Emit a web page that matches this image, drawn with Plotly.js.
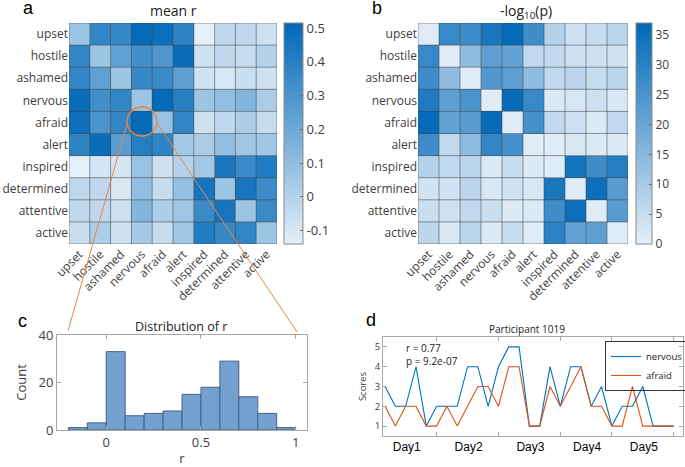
<!DOCTYPE html>
<html>
<head>
<meta charset="utf-8">
<script src="https://cdn.plot.ly/plotly-3.0.1.min.js"></script>
<style>html,body{margin:0;padding:0;background:#fff;}#chart{width:685px;height:467px;}</style>
</head>
<body>
<div id="chart"></div>
<script>
// ---------------- data ----------------
const emotions = ['upset','hostile','ashamed','nervous','afraid','alert','inspired','determined','attentive','active'];

const meanR = [
  [ 0.07, 0.37, 0.36, 0.50, 0.48, 0.38,-0.14,-0.03,-0.03,-0.07],
  [ 0.37, 0.07, 0.24, 0.33, 0.29, 0.49,-0.07,-0.03,-0.05, 0.00],
  [ 0.37, 0.24, 0.07, 0.36, 0.35, 0.25,-0.08,-0.10,-0.06,-0.07],
  [ 0.49, 0.33, 0.37, 0.07, 0.50, 0.40, 0.07, 0.10, 0.14, 0.03],
  [ 0.48, 0.30, 0.37, 0.50, 0.08, 0.37,-0.07,-0.03, 0.02,-0.05],
  [ 0.38, 0.49, 0.26, 0.41, 0.38, 0.05, 0.03, 0.10, 0.06, 0.06],
  [-0.14,-0.09,-0.09, 0.08,-0.07, 0.00, 0.05, 0.44, 0.35, 0.42],
  [-0.03,-0.03,-0.10, 0.10,-0.05, 0.09, 0.45, 0.07, 0.45, 0.34],
  [-0.03,-0.03,-0.07, 0.14, 0.02, 0.06, 0.35, 0.45, 0.07, 0.35],
  [-0.06, 0.02,-0.07, 0.04,-0.05, 0.06, 0.42, 0.36, 0.37, 0.07]
];

const negLogP = [
  [ 1, 28, 27, 33, 36, 27,  8,  4,  5,  7],
  [28,  1, 14, 22, 21,  6,  6,  4,  4,  3],
  [27, 14,  1, 24, 22, 14,  6,  7,  5,  7],
  [32, 22, 25,  1, 36, 28,1.5,2.5,  4,  2],
  [36, 21, 23, 36,  1, 26,  6,  4,1.5,  6],
  [27,  6, 14, 29, 26,  1,  1,2.5,1.5,1.5],
  [ 8,  6,  7,1.5,  5,1.5,  1, 34, 27, 31],
  [ 3,  3,  7,  2,3.5,  2, 33,  1, 35, 23],
  [4.5,3.5, 6,4.5,1.5,1.5, 27, 35,  1, 23],
  [ 7,  2,  7,1.5,  5,  1, 30, 21, 22,  1]
];

const rBinEdges = [-0.2,-0.1,0,0.1,0.2,0.3,0.4,0.5,0.6,0.7,0.8,0.9,1.0];
const rCounts   = [1, 3, 33, 6, 7, 8, 15, 18, 29, 14, 7, 1];

const nervousScores = [3,2,2,4,1,2,2,2,4,4,2,4,5,5,1,1,4,2,4,4,2,3,1,2,2,3,1,1,1];
const afraidScores  = [2,1,2,2,1,1,2,1,2,3,3,2,4,4,1,1,3,2,3,4,2,2,1,1,3,1,1,1,1];
const dayLabels = ['Day1','Day2','Day3','Day4','Day5'];
const dayLabelPos = [2.1, 8.1, 14.1, 19.6, 25.1];
const dayBoundaries = [5, 11, 17, 22, 28];

const rTicksA = [-0.1, 0, 0.1, 0.2, 0.3, 0.4, 0.5];
const pTicksB = [0, 5, 10, 15, 20, 25, 30, 35];

// ---------------- helpers ----------------
const W = 685, H = 467;
const px = x => x / W;
const py = y => 1 - y / H;
const FONT = 'Open Sans, Noto Sans, sans-serif';
const ARIAL = 'Liberation Sans, Arial, sans-serif';
const TXT = '#404040';
const blues = [[0, 'rgb(229,239,248)'], [1, 'rgb(0,104,184)']];
const sessions = nervousScores.map((_, i) => i);
const binCenters = rCounts.map((_, i) => (rBinEdges[i] + rBinEdges[i + 1]) / 2);
const binWidths = rCounts.map((_, i) => rBinEdges[i + 1] - rBinEdges[i]);
const NERVOUS_COLOR = 'rgb(0,114,189)';
const AFRAID_COLOR = 'rgb(217,83,25)';

// ---------------- traces ----------------
const hmY = [0.47752, 0.95075];
const cbY = (hmY[0] + hmY[1]) / 2, cbLen = hmY[1] - hmY[0];

const traces = [
  {
    type: 'heatmap', x: emotions, y: emotions, z: meanR, xaxis: 'x', yaxis: 'y',
    colorscale: blues, zmin: -0.14, zmax: 0.515, showlegend: false,
    colorbar: {
      x: px(284), xanchor: 'left', xpad: 0, ypad: 0, y: cbY, yanchor: 'middle',
      len: cbLen, lenmode: 'fraction', thickness: 19, thicknessmode: 'pixels',
      outlinewidth: 1, outlinecolor: '#8a8a8a',
      tickvals: rTicksA, ticktext: rTicksA.map(v => String(v)),
      ticks: 'inside', ticklen: 3, tickcolor: '#666',
      tickfont: {family: FONT, size: 13, color: TXT}
    }
  },
  {
    type: 'heatmap', x: emotions, y: emotions, z: negLogP, xaxis: 'x2', yaxis: 'y2',
    colorscale: blues, zmin: 0, zmax: 37, showlegend: false,
    colorbar: {
      x: px(636), xanchor: 'left', xpad: 0, ypad: 0, y: cbY, yanchor: 'middle',
      len: cbLen, lenmode: 'fraction', thickness: 16, thicknessmode: 'pixels',
      outlinewidth: 1, outlinecolor: '#8a8a8a',
      tickvals: pTicksB, ticks: 'inside', ticklen: 3, tickcolor: '#666',
      tickfont: {family: FONT, size: 12, color: TXT}
    }
  },
  {
    type: 'bar', x: binCenters, y: rCounts, width: binWidths, xaxis: 'x3', yaxis: 'y3',
    marker: {color: 'rgb(116,161,208)', line: {color: 'rgb(72,96,132)', width: 1}},
    showlegend: false
  },
  {
    type: 'scatter', mode: 'lines', name: 'nervous', x: sessions, y: nervousScores,
    xaxis: 'x4', yaxis: 'y4', line: {color: NERVOUS_COLOR, width: 1.1}
  },
  {
    type: 'scatter', mode: 'lines', name: 'afraid', x: sessions, y: afraidScores,
    xaxis: 'x4', yaxis: 'y4', line: {color: AFRAID_COLOR, width: 1.1}
  }
];

// ---------------- grid lines of heatmaps ----------------
const shapes = [];
const n = emotions.length;
[['x', 'y'], ['x2', 'y2']].forEach(([xr, yr]) => {
  for (let i = 0; i <= n; i++) {
    shapes.push({type: 'line', xref: xr, yref: yr, x0: i - 0.5, x1: i - 0.5, y0: -0.5, y1: n - 0.5,
      line: {color: 'rgba(70,70,70,0.55)', width: 1}});
    shapes.push({type: 'line', xref: xr, yref: yr, y0: i - 0.5, y1: i - 0.5, x0: -0.5, x1: n - 0.5,
      line: {color: 'rgba(70,70,70,0.55)', width: 1}});
  }
});
// zoom circle and connector lines
const orange = 'rgb(232,134,66)';
shapes.push({type: 'circle', xref: 'paper', yref: 'paper', x0: px(127), x1: px(157), y0: py(136), y1: py(107),
  line: {color: orange, width: 1.3}});
shapes.push({type: 'line', xref: 'paper', yref: 'paper', x0: px(127), y0: py(124), x1: px(68), y1: py(331),
  line: {color: orange, width: 1}});
shapes.push({type: 'line', xref: 'paper', yref: 'paper', x0: px(157.5), y0: py(124), x1: px(297), y1: py(332),
  line: {color: orange, width: 1}});

// ---------------- axes ----------------
const hmXAxis = dom => ({
  domain: dom, type: 'category', range: [-0.5, n - 0.5], tickangle: -45, ticks: '',
  showgrid: false, zeroline: false, showline: false,
  tickfont: {family: FONT, size: 12, color: TXT}
});
const hmYAxis = () => ({
  domain: hmY, type: 'category', range: [n - 0.5, -0.5], ticks: '',
  showgrid: false, zeroline: false, showline: false,
  tickfont: {family: FONT, size: 12, color: TXT}
});

const boxAxis = {
  showline: true, mirror: 'ticks', linecolor: '#a8a8a8', linewidth: 1,
  ticks: 'inside', ticklen: 4, tickcolor: '#a8a8a8', showgrid: false, zeroline: false
};

const ann = (text, x, y, size, opts) => Object.assign({
  text: text, x: px(x), y: py(y), xref: 'paper', yref: 'paper', showarrow: false,
  xanchor: 'center', yanchor: 'middle', font: {family: FONT, size: size, color: '#222'}
}, opts || {});
const letterFont = {family: ARIAL, size: 18, color: '#000'};
const annotations = [
  ann('mean r', 173, 11, 14),
  ann('-log<sub>10</sub>(p)', 526, 12, 14),
  ann('Distribution of r', 181, 326, 12.5),
  ann('Participant 1019', 527, 329, 10),
  ann('r = 0.77<br>p = 9.2e-07', 404, 354, 10, {xanchor: 'left', align: 'left'}),
  ann('a', 28, 8, 18, {font: letterFont}),
  ann('b', 377, 8, 18, {font: letterFont}),
  ann('c', 22, 320.5, 18, {font: letterFont}),
  ann('d', 371, 319.5, 18, {font: letterFont})
];

const layout = {
  width: W, height: H, margin: {l: 0, r: 0, t: 0, b: 0, autoexpand: false},
  paper_bgcolor: '#fff', plot_bgcolor: '#fff',
  font: {family: FONT, color: TXT},
  xaxis: Object.assign(hmXAxis([px(69), px(277)]), {anchor: 'y'}),
  yaxis: Object.assign(hmYAxis(), {anchor: 'x'}),
  xaxis2: Object.assign(hmXAxis([px(418), px(628)]), {anchor: 'y2'}),
  yaxis2: Object.assign(hmYAxis(), {anchor: 'x2'}),
  xaxis3: Object.assign({}, boxAxis, {
    domain: [px(57), px(307)], anchor: 'y3', range: [-0.26, 1.06],
    tickvals: [0, 0.5, 1], ticktext: ['0', '0.5', '1'],
    tickfont: {family: FONT, size: 13, color: TXT},
    title: {text: 'r', font: {family: FONT, size: 13, color: TXT}, standoff: 6}
  }),
  yaxis3: Object.assign({}, boxAxis, {
    domain: [py(430), py(335)], anchor: 'x3', range: [0, 40],
    tickvals: [0, 20, 40], tickfont: {family: FONT, size: 13, color: TXT},
    title: {text: 'Count', font: {family: FONT, size: 13, color: TXT}, standoff: 8}
  }),
  xaxis4: Object.assign({}, boxAxis, {
    domain: [px(383), px(683)], anchor: 'y4', range: [-0.2, 28.9],
    tickvals: dayLabelPos, ticktext: dayLabels, ticks: '',
    tickfont: {family: ARIAL, size: 12, color: '#000'},
    minor: {tickmode: 'array', tickvals: dayBoundaries, ticks: 'inside', ticklen: 4, tickcolor: '#a8a8a8', showgrid: false}
  }),
  yaxis4: Object.assign({}, boxAxis, {
    domain: [py(436), py(337)], anchor: 'x4', range: [0.5, 5.5],
    tickvals: [1, 2, 3, 4, 5], tickfont: {family: FONT, size: 9.5, color: TXT},
    title: {text: 'Scores', font: {family: FONT, size: 9.5, color: TXT}, standoff: 6}
  }),
  showlegend: true,
  legend: {
    x: px(605), y: py(341), xanchor: 'left', yanchor: 'top',
    bordercolor: '#333', borderwidth: 1, bgcolor: 'rgba(255,255,255,0)',
    font: {family: FONT, size: 9.5, color: '#222'}
  },
  shapes: shapes,
  annotations: annotations
};

Plotly.newPlot('chart', traces, layout, {staticPlot: true, displayModeBar: false});
</script>
</body>
</html>
